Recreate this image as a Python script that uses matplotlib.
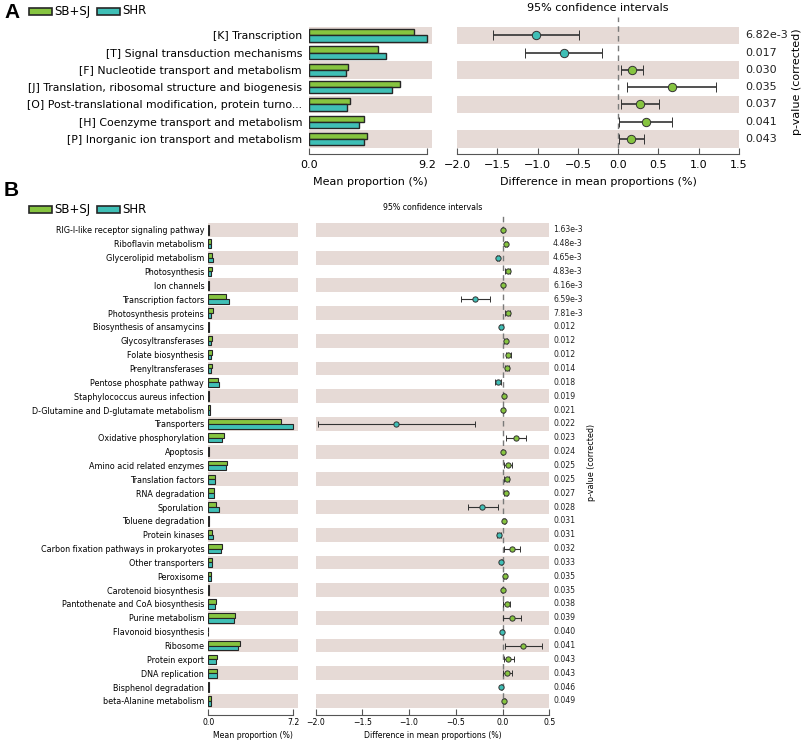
import matplotlib

matplotlib.use("Agg")
import matplotlib.pyplot as plt
import numpy as np
from matplotlib.patches import Rectangle

W, H = 805, 742

GREEN = "#86c440"
TEAL = "#3fbfb6"
SHADE = "#e6dad6"
EDGE = "#262626"

# panel A
A_LABELS = [
    "[K] Transcription",
    "[T] Signal transduction mechanisms",
    "[F] Nucleotide transport and metabolism",
    "[J] Translation, ribosomal structure and biogenesis",
    "[O] Post-translational modification, protein turno...",
    "[H] Coenzyme transport and metabolism",
    "[P] Inorganic ion transport and metabolism",
]
A_SBSJ = [8.2, 5.37, 3.05, 7.1, 3.2, 4.3, 4.5]
A_SHR = [9.2, 6.0, 2.9, 6.45, 3.0, 3.9, 4.3]
A_DIFF = [-1.02, -0.67, 0.17, 0.67, 0.27, 0.34, 0.16]
A_LOW = [-1.55, -1.15, 0.03, 0.11, 0.03, 0.01, 0.01]
A_HIGH = [-0.48, -0.20, 0.31, 1.21, 0.51, 0.67, 0.32]
A_PVALS = ["6.82e-3", "0.017", "0.030", "0.035", "0.037", "0.041", "0.043"]

# panel B
B_LABELS = [
    "RIG-I-like receptor signaling pathway",
    "Riboflavin metabolism",
    "Glycerolipid metabolism",
    "Photosynthesis",
    "Ion channels",
    "Transcription factors",
    "Photosynthesis proteins",
    "Biosynthesis of ansamycins",
    "Glycosyltransferases",
    "Folate biosynthesis",
    "Prenyltransferases",
    "Pentose phosphate pathway",
    "Staphylococcus aureus infection",
    "D-Glutamine and D-glutamate metabolism",
    "Transporters",
    "Oxidative phosphorylation",
    "Apoptosis",
    "Amino acid related enzymes",
    "Translation factors",
    "RNA degradation",
    "Sporulation",
    "Toluene degradation",
    "Protein kinases",
    "Carbon fixation pathways in prokaryotes",
    "Other transporters",
    "Peroxisome",
    "Carotenoid biosynthesis",
    "Pantothenate and CoA biosynthesis",
    "Purine metabolism",
    "Flavonoid biosynthesis",
    "Ribosome",
    "Protein export",
    "DNA replication",
    "Bisphenol degradation",
    "beta-Alanine metabolism",
]
B_SBSJ = [0.02, 0.25, 0.34, 0.34, 0.02, 1.5, 0.37, 0.08, 0.31, 0.34, 0.34, 0.8,
          0.03, 0.15, 6.13, 1.3, 0.02, 1.55, 0.6, 0.5, 0.68, 0.08, 0.31, 1.16,
          0.28, 0.22, 0.02, 0.65, 2.29, 0.01, 2.68, 0.7, 0.76, 0.08, 0.25]
B_SHR = [0.02, 0.2, 0.42, 0.22, 0.02, 1.78, 0.25, 0.08, 0.25, 0.22, 0.25, 0.9,
         0.03, 0.13, 7.2, 1.16, 0.02, 1.5, 0.55, 0.45, 0.93, 0.08, 0.37, 1.05,
         0.31, 0.22, 0.02, 0.6, 2.17, 0.01, 2.49, 0.62, 0.7, 0.08, 0.22]
B_DIFF = [0.003, 0.035, -0.05, 0.057, 0.003, -0.29, 0.054, -0.018, 0.036, 0.06,
          0.05, -0.05, 0.01, 0.008, -1.14, 0.146, 0.002, 0.057, 0.046, 0.036,
          -0.22, 0.02, -0.043, 0.1, -0.014, 0.025, 0.001, 0.05, 0.1, -0.004,
          0.22, 0.06, 0.05, -0.014, 0.02]
B_LOW = [-0.002, 0.025, -0.06, 0.03, -0.002, -0.44, 0.03, -0.025, 0.02, 0.035,
         0.03, -0.08, 0.005, 0.003, -1.98, 0.04, -0.003, 0.015, 0.02, 0.02,
         -0.375, 0.013, -0.065, 0.014, -0.02, 0.018, -0.004, 0.007, 0.004,
         -0.009, 0.025, 0.01, 0.007, -0.02, 0.014]
B_HIGH = [0.008, 0.045, -0.04, 0.08, 0.008, -0.13, 0.08, -0.011, 0.05, 0.085,
          0.07, -0.02, 0.015, 0.013, -0.30, 0.25, 0.007, 0.1, 0.07, 0.05,
          -0.046, 0.027, -0.015, 0.19, -0.008, 0.032, 0.006, 0.08, 0.196, 0.001,
          0.42, 0.118, 0.096, -0.008, 0.026]
B_PVALS = ["1.63e-3", "4.48e-3", "4.65e-3", "4.83e-3", "6.16e-3", "6.59e-3",
           "7.81e-3", "0.012", "0.012", "0.012", "0.014", "0.018", "0.019",
           "0.021", "0.022", "0.023", "0.024", "0.025", "0.025", "0.027", "0.028",
           "0.031", "0.031", "0.032", "0.033", "0.035", "0.035", "0.038", "0.039",
           "0.040", "0.041", "0.043", "0.043", "0.046", "0.049"]


def px_rect(left, top, right, bottom):
    return [left / W, 1 - bottom / H, (right - left) / W, (bottom - top) / H]


def fig_text(fig, x, y, s, **kw):
    fig.text(x / W, 1 - y / H, s, **kw)


def shade_rows(ax, n):
    for i in range(0, n, 2):
        ax.axhspan(i - 0.5, i + 0.5, color=SHADE, lw=0, zorder=0)


def style_bottom(ax, lo, hi, offset, fs, pad):
    for side in ("top", "right", "left"):
        ax.spines[side].set_visible(False)
    ax.spines["bottom"].set_position(("outward", offset))
    ax.spines["bottom"].set_bounds(lo, hi)
    ax.spines["bottom"].set_color("#555555")
    ax.tick_params(axis="x", direction="in", length=4, color="#555555",
                   labelsize=fs, pad=pad)


def draw_bars(ax, labels, sbsj, shr, tick_max, x_right, extra_top, fs, cfg):
    n = len(labels)
    y = np.arange(n)
    shade_rows(ax, n)
    bh = cfg["bar_h"]
    ax.barh(y - bh / 2, sbsj, height=bh, color=GREEN, edgecolor=EDGE,
            linewidth=cfg["lw"], zorder=2)
    ax.barh(y + bh / 2, shr, height=bh, color=TEAL, edgecolor=EDGE,
            linewidth=cfg["lw"], zorder=2)
    ax.set_ylim(n - 0.5, -0.5 - extra_top)
    ax.set_xlim(0, x_right)
    ax.set_yticks(y)
    ax.set_yticklabels(labels, fontsize=fs)
    ax.tick_params(axis="y", length=0, pad=cfg["ypad"])
    ax.set_xticks([0, tick_max])
    ax.set_xticklabels(["0.0", f"{tick_max:.1f}"])
    style_bottom(ax, 0, tick_max, cfg["offset"], cfg["tick_fs"], cfg["tick_pad"])
    ax.set_xlabel("Mean proportion (%)", fontsize=cfg["tick_fs"],
                  labelpad=cfg["label_pad"])


def draw_ci(ax, diff, low, high, pvals, xlim, ticks, extra_top, cfg):
    n = len(diff)
    y = np.arange(n)
    shade_rows(ax, n)
    ax.axvline(0, color="#7a7a7a", lw=1, ls=(0, (4, 3)), zorder=1)
    for i in range(n):
        col = GREEN if diff[i] > 0 else TEAL
        ax.errorbar(diff[i], y[i], xerr=[[diff[i] - low[i]], [high[i] - diff[i]]],
                    fmt="o", color=col, ecolor="#333333", elinewidth=cfg["elw"],
                    capsize=cfg["cap"], capthick=cfg["elw"], markersize=cfg["ms"],
                    markeredgecolor="#333333", markeredgewidth=0.7, zorder=3)
        ax.text(1 + cfg["p_off"], y[i], pvals[i], transform=ax.get_yaxis_transform(),
                va="center", ha="left", fontsize=cfg["p_fs"], color="#222222")
    ax.set_ylim(n - 0.5, -0.5 - extra_top)
    ax.set_xlim(*xlim)
    ax.set_yticks([])
    ax.set_xticks(ticks)
    ax.set_xticklabels([f"{t:.1f}".replace("-", "\u2212") for t in ticks])
    style_bottom(ax, xlim[0], xlim[1], cfg["offset"], cfg["tick_fs"], cfg["tick_pad"])
    ax.set_xlabel("Difference in mean proportions (%)", fontsize=cfg["tick_fs"],
                  labelpad=cfg["label_pad"])


def draw_legend(fig, y, fs):
    for x0, col, name in ((29, GREEN, "SB+SJ"), (97, TEAL, "SHR")):
        fig.patches.append(Rectangle((x0 / W, 1 - (y + 3.5) / H), 23 / W, 7 / H,
                                     facecolor=col, edgecolor=EDGE, linewidth=1.2,
                                     transform=fig.transFigure, figure=fig))
        fig_text(fig, x0 + 25, y, name, fontsize=fs, va="center", ha="left")


def main():
    plt.rcParams["font.family"] = ["DejaVu Sans"]
    fig = plt.figure(figsize=(W / 100, H / 100), dpi=100)

    # ---- panel A
    cfg_a = dict(bar_h=0.36, lw=1.0, ypad=5, offset=4.6, tick_fs=8, tick_pad=4,
                 label_pad=5, elw=1.2, cap=3.6, ms=6, p_off=0.021, p_fs=8)
    extra_a = 9.7 / 17.29
    ax_a1 = fig.add_axes(px_rect(309, 17, 432, 147.7))
    draw_bars(ax_a1, A_LABELS, A_SBSJ, A_SHR, 9.2, 9.2 * 123 / 117.7, extra_a, 7.8, cfg_a)
    ax_a2 = fig.add_axes(px_rect(457, 17, 739, 147.7))
    draw_ci(ax_a2, A_DIFF, A_LOW, A_HIGH, A_PVALS, (-2.0, 1.5),
            np.arange(-2.0, 1.51, 0.5), extra_a, cfg_a)
    fig_text(fig, 598, 8, "95% confidence intervals", fontsize=8, ha="center", va="center")
    fig_text(fig, 797, 82, "p-value (corrected)", fontsize=8, rotation=90,
             ha="center", va="center")
    draw_legend(fig, 11, 8.5)
    fig_text(fig, 4, 13, "A", fontsize=15, fontweight="bold",
             family="Liberation Sans", ha="left", va="center")

    # ---- panel B
    cfg_b = dict(bar_h=0.34, lw=0.8, ypad=3, offset=5, tick_fs=5.6, tick_pad=2.5,
                 label_pad=3, elw=0.8, cap=2.2, ms=3.8, p_off=0.016, p_fs=5.6)
    extra_b = 7 / 13.85
    ax_b1 = fig.add_axes(px_rect(208.3, 216, 297.7, 707.9))
    draw_bars(ax_b1, B_LABELS, B_SBSJ, B_SHR, 7.2, 7.2 * 89.4 / 85, extra_b, 5.75, cfg_b)
    ax_b2 = fig.add_axes(px_rect(315.7, 216, 549.3, 707.9))
    draw_ci(ax_b2, B_DIFF, B_LOW, B_HIGH, B_PVALS, (-2.0, 0.5),
            np.arange(-2.0, 0.51, 0.5), extra_b, cfg_b)
    fig_text(fig, 433, 208, "95% confidence intervals", fontsize=5.7, ha="center", va="center")
    fig_text(fig, 591, 462, "p-value (corrected)", fontsize=5.8, rotation=90,
             ha="center", va="center")
    draw_legend(fig, 209, 8.5)
    fig_text(fig, 4, 190, "B", fontsize=15, fontweight="bold",
             family="Liberation Sans", ha="left", va="center")

    fig.savefig("out.png", dpi=100)
    plt.close(fig)


if __name__ == "__main__":
    main()
